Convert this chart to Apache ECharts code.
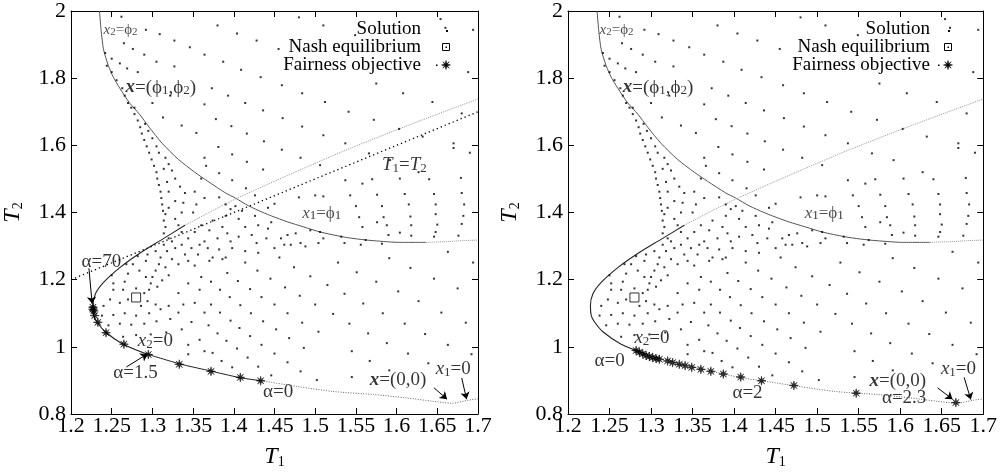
<!DOCTYPE html>
<html>
<head>
<meta charset="utf-8">
<title>Fairness objective and Nash equilibrium</title>
<script src="https://cdn.jsdelivr.net/npm/echarts@6.0.0/dist/echarts.min.js"></script>
<style>
  html, body { margin: 0; background: #fff; }
  #main { width: 1000px; height: 474px; }
</style>
</head>
<body>
<div id="main"></div>
<script>
// axis ranges
var t1Min = 1.2, t1Max = 1.7, t1Step = 0.05;
var t2Min = 0.8, t2Max = 2, t2Step = 0.2;

// solution points (T1, T2), same in both panels
var solutionUpper = [
  [1.262,1.983],[1.292,1.944],[1.309,1.931],[1.265,1.904],[1.327,1.912],[1.242,1.875],[1.276,1.887],[1.290,1.870],
  [1.346,1.892],[1.250,1.858],[1.305,1.849],[1.364,1.870],[1.260,1.844],[1.269,1.829],[1.327,1.835],[1.282,1.818],
  [1.244,1.837],[1.250,1.818],[1.256,1.794],[1.263,1.770],[1.266,1.748],[1.300,1.726],[1.322,1.748],[1.364,1.722],
  [1.278,1.712],[1.313,1.683],[1.336,1.659],[1.354,1.637],[1.364,1.563],
  [1.480,1.981],[1.510,1.957],[1.380,1.957],[1.404,1.933],[1.428,1.912],[1.455,1.887],[1.387,1.849],[1.409,1.825],
  [1.433,1.803],[1.459,1.779],[1.484,1.755],[1.512,1.729],[1.373,1.770],[1.393,1.748],[1.414,1.726],[1.436,1.704],
  [1.460,1.681],[1.484,1.656],[1.510,1.630],[1.378,1.678],[1.397,1.657],[1.416,1.635],[1.437,1.612],[1.459,1.587],
  [1.482,1.563],[1.381,1.595],[1.398,1.573],[1.416,1.551],[1.436,1.528],[1.366,1.539],[1.382,1.517],[1.398,1.496],
  [1.415,1.472],[1.506,1.541],[1.500,1.451],[1.382,1.445],[1.426,1.451],[1.450,1.426],[1.442,1.414],[1.390,1.424],
  [1.402,1.419],[1.396,1.410],[1.410,1.405],[1.480,1.445],[1.510,1.448],
  [1.654,1.976],[1.660,1.950],[1.694,1.944],[1.549,1.928],[1.688,1.818],[1.575,1.784],[1.608,1.755],[1.644,1.729],
  [1.541,1.700],[1.572,1.676],[1.680,1.695],[1.603,1.649],[1.632,1.626],[1.670,1.606],[1.537,1.606],[1.690,1.578],
  [1.566,1.576],[1.592,1.556],[1.627,1.520],[1.537,1.496],[1.570,1.499],[1.604,1.501],[1.640,1.499],[1.679,1.503],
  [1.558,1.486],[1.543,1.451],[1.576,1.453],[1.610,1.455],[1.646,1.455],[1.680,1.458],[1.550,1.419],[1.582,1.419],
  [1.615,1.424],[1.648,1.424],[1.683,1.424],[1.670,1.592]
];
var solutionFan = [
  [1.270,1.726],[1.274,1.712],[1.278,1.693],[1.282,1.674],[1.285,1.654],[1.287,1.635],[1.290,1.616],[1.293,1.597],
  [1.296,1.578],[1.299,1.558],[1.302,1.539],[1.305,1.520],[1.306,1.501],[1.308,1.482],[1.310,1.462],[1.311,1.443],
  [1.312,1.424],[1.313,1.405],
  [1.291,1.664],[1.295,1.643],[1.300,1.621],[1.305,1.597],[1.308,1.578],[1.316,1.563],[1.320,1.544],[1.314,1.530],
  [1.324,1.525],[1.328,1.501],[1.318,1.491],[1.334,1.477],[1.320,1.462],[1.340,1.458],[1.328,1.434],[1.338,1.429],
  [1.352,1.462],[1.354,1.424],[1.320,1.414],[1.336,1.400],[1.360,1.501],[1.364,1.443],[1.350,1.400]
];
var solutionCluster = [
  [1.316,1.395],[1.314,1.376],[1.316,1.357],[1.314,1.338],[1.320,1.323],[1.314,1.304],[1.318,1.285],[1.310,1.266],
  [1.308,1.246],[1.304,1.227],[1.300,1.208],[1.298,1.189],[1.296,1.170],[1.328,1.381],[1.332,1.362],[1.336,1.342],
  [1.324,1.314],[1.328,1.294],[1.336,1.304],[1.340,1.275],[1.324,1.261],[1.332,1.246],[1.316,1.237],[1.344,1.323],
  [1.352,1.342],[1.360,1.362],[1.348,1.294],[1.358,1.304],[1.356,1.275],[1.364,1.314],[1.344,1.256],[1.352,1.242],
  [1.320,1.213],[1.312,1.198],[1.306,1.179],
  [1.374,1.376],[1.390,1.390],[1.406,1.381],[1.426,1.390],[1.446,1.371],[1.370,1.347],[1.386,1.357],[1.392,1.338],
  [1.414,1.357],[1.430,1.362],[1.442,1.352],[1.380,1.323],[1.396,1.314],[1.406,1.328],[1.422,1.333],[1.428,1.309],
  [1.440,1.323],[1.450,1.294],[1.458,1.323],[1.466,1.333],[1.462,1.304],[1.476,1.338],[1.482,1.309],[1.488,1.299],
  [1.504,1.309],[1.510,1.323],[1.506,1.342],[1.368,1.294],[1.382,1.290],[1.398,1.294],[1.414,1.285],[1.430,1.280],
  [1.374,1.266],[1.390,1.266],[1.370,1.256],[1.386,1.261],[1.414,1.251],[1.456,1.266],[1.470,1.304],[1.474,1.237],
  [1.528,1.251],[1.494,1.347],
  [1.554,1.386],[1.584,1.386],[1.617,1.388],[1.648,1.395],[1.682,1.390],[1.558,1.357],[1.588,1.362],[1.618,1.362],
  [1.650,1.364],[1.680,1.366],[1.576,1.371],[1.532,1.328],[1.562,1.318],[1.590,1.333],[1.604,1.340],[1.618,1.331],
  [1.648,1.342],[1.676,1.331],[1.536,1.309],[1.556,1.304],[1.582,1.307],[1.646,1.328]
];
var solutionLower = [
  [1.290,1.160],[1.264,1.170],[1.252,1.170],[1.248,1.141],[1.260,1.131],[1.270,1.141],[1.280,1.174],[1.286,1.122],
  [1.294,1.136],[1.304,1.126],[1.240,1.122],[1.238,1.093],[1.252,1.095],[1.266,1.100],[1.280,1.093],[1.296,1.100],
  [1.310,1.112],[1.320,1.122],[1.246,1.064],[1.260,1.069],[1.274,1.066],[1.290,1.069],[1.305,1.076],[1.322,1.083],
  [1.332,1.102],[1.264,1.030],[1.280,1.035],[1.298,1.037],[1.317,1.043],[1.336,1.052],[1.348,1.074],[1.344,1.006],
  [1.358,1.021],[1.344,0.978],[1.364,0.987],[1.252,1.189],[1.266,1.194],[1.250,1.213],[1.270,1.218],[1.284,1.227],
  [1.292,1.208],[1.268,1.246],[1.276,1.246],[1.292,1.256],[1.294,1.275],[1.304,1.285],[1.282,1.270],[1.360,1.208],
  [1.358,1.170],[1.344,1.189],[1.332,1.160],[1.352,1.131],[1.338,1.126],[1.364,1.102],
  [1.429,1.227],[1.392,1.220],[1.372,1.194],[1.405,1.196],[1.445,1.203],[1.494,1.210],[1.383,1.170],[1.420,1.172],
  [1.463,1.177],[1.515,1.184],[1.395,1.148],[1.434,1.148],[1.481,1.152],[1.372,1.126],[1.408,1.124],[1.450,1.126],
  [1.500,1.126],[1.383,1.102],[1.421,1.100],[1.466,1.100],[1.522,1.098],[1.396,1.078],[1.436,1.076],[1.484,1.072],
  [1.369,1.064],[1.407,1.056],[1.452,1.052],[1.504,1.045],[1.380,1.040],[1.420,1.032],[1.468,1.026],[1.391,1.018],
  [1.434,1.006],[1.486,0.997],[1.374,0.982],[1.404,0.995],[1.450,0.980],[1.385,0.958],[1.417,0.968],[1.466,0.954],
  [1.398,0.939],[1.430,0.941],[1.482,0.927],[1.446,0.915],[1.502,0.901],
  [1.663,1.283],[1.591,1.264],[1.694,1.251],[1.551,1.222],[1.617,1.235],[1.575,1.194],[1.646,1.203],[1.675,1.174],
  [1.536,1.158],[1.602,1.165],[1.559,1.129],[1.627,1.136],[1.583,1.100],[1.655,1.102],[1.542,1.069],[1.610,1.069],
  [1.685,1.072],[1.565,1.040],[1.635,1.038],[1.588,1.011],[1.663,1.006],[1.545,0.987],[1.614,0.980],[1.692,0.978],
  [1.567,0.958],[1.639,0.951],[1.591,0.930],[1.545,0.910]
];

var nashPoint = [[1.280, 1.147]];

var fairnessLeft = [
  [1.227,1.118],[1.227,1.112],[1.228,1.107],[1.229,1.093],[1.233,1.073],[1.243,1.042],[1.265,1.008],[1.295,0.977],
  [1.333,0.948],[1.372,0.927],[1.408,0.909],[1.433,0.899]
];
var fairnessRight = [
  [1.282,0.989],[1.286,0.984],[1.290,0.979],[1.294,0.974],[1.298,0.971],[1.302,0.968],[1.306,0.965],[1.310,0.963],
  [1.320,0.958],[1.326,0.953],[1.334,0.948],[1.341,0.944],[1.349,0.939],[1.360,0.933],[1.372,0.927],[1.387,0.919],
  [1.408,0.910],[1.433,0.899],[1.472,0.885],[1.547,0.862],[1.667,0.834]
];

// x2 = phi2 / x1 = phi1 curve
var upperCurve = [
  [1.235,2.0],[1.237,1.942],[1.240,1.885],[1.246,1.837],[1.252,1.803],[1.260,1.770],[1.272,1.726],[1.284,1.693],
  [1.296,1.654],[1.312,1.606],[1.332,1.558],[1.352,1.520],[1.368,1.493],[1.390,1.458],[1.402,1.443],[1.418,1.420],
  [1.436,1.400],[1.446,1.390],[1.466,1.372],[1.486,1.357],[1.506,1.342],[1.533,1.328],[1.552,1.321],[1.572,1.316],
  [1.604,1.311],[1.636,1.311]
];
var upperTail = [[1.636,1.311],[1.660,1.313],[1.680,1.316],[1.700,1.318]];

// x2 = 0 boundary, pieces
var lowerTop = [[1.340,1.362],[1.368,1.398],[1.402,1.440],[1.450,1.493],[1.534,1.582],[1.620,1.665],[1.700,1.738]];
var lowerNose = [
  [1.340,1.362],[1.312,1.320],[1.284,1.278],[1.260,1.236],[1.240,1.192],[1.230,1.158],[1.227,1.122],
  [1.228,1.093],[1.232,1.074],[1.242,1.045],[1.264,1.008],[1.294,0.978]
];
var lowerMid = [[1.294,0.978],[1.334,0.949],[1.368,0.930],[1.408,0.908],[1.434,0.899]];
var lowerTail = [
  [1.434,0.899],[1.478,0.882],[1.522,0.867],[1.572,0.858],[1.612,0.848],[1.644,0.838],[1.668,0.832],[1.688,0.841],
  [1.700,0.845]
];

var diagonal = [[1.2,1.2],[1.7,1.7]];

var labelsLeft = [
  [1.240,1.942,'x2phi2'],[1.267,1.772,'xphi'],[1.582,1.541,'t1t2'],[1.484,1.397,'x1phi1'],[1.213,1.253,'a70'],
  [1.282,1.016,'x20'],[1.252,0.921,'a15'],[1.436,0.866,'a0'],[1.567,0.901,'x00'],[1.648,0.933,'x10']
];
var labelsRight = [
  [1.238,1.942,'x2phi2'],[1.266,1.772,'xphi'],[1.485,1.397,'x1phi1'],[1.280,1.026,'x20'],[1.232,0.959,'a0'],
  [1.398,0.863,'a2'],[1.563,0.898,'x00'],[1.649,0.933,'x10'],[1.578,0.849,'a23']
];
var arrowsLeft = [
  [[1.222,1.234],[1.226,1.128]],
  [[1.268,0.940],[1.294,0.979]],
  [[1.646,0.878],[1.662,0.844]],
  [[1.680,0.907],[1.686,0.844]]
];
var arrowsRight = [
  [[1.645,0.878],[1.663,0.844]],
  [[1.677,0.909],[1.685,0.843]]
];

var labelText = {
  x2phi2: '{si|x}{ss|2}{sn|=ϕ}{ss|2}',
  xphi: '{b|x}{n|=(ϕ}{s|1}{n|,ϕ}{s|2}{n|)}',
  t1t2: '{i|T}{s|1}{n|=}{i|T}{s|2}',
  x1phi1: '{mi|x}{s|1}{mn|=ϕ}{s|1}',
  a70: '{n|α=70}',
  x20: '{i|x}{s|2}{n|=0}',
  a15: '{n|α=1.5}',
  a0: '{n|α=0}',
  a2: '{n|α=2}',
  a23: '{n|α=2.3}',
  x00: '{b|x}{n|=(0,0)}',
  x10: '{i|x}{s|1}{n|=0}'
};

var FONT = '"Liberation Serif", "DejaVu Serif", serif';
// eight-point star marker, 10x10 box
var starPts = [[10,5],[6.3,4.2],[8.54,1.46],[5.8,3.7],[5,0],[4.2,3.7],[1.46,1.46],[3.7,4.2],
  [0,5],[3.7,5.8],[1.46,8.54],[4.2,6.3],[5,10],[5.8,6.3],[8.54,8.54],[6.3,5.8]];
var STAR = 'M' + starPts.map(function (p) { return p[0] + ' ' + p[1]; }).join('L') + 'Z';

var rich = {
  n: { fontFamily: FONT, fontSize: 19, lineHeight: 19, color: '#000' },
  i: { fontFamily: FONT, fontSize: 19, lineHeight: 19, fontStyle: 'italic', color: '#000' },
  b: { fontFamily: FONT, fontSize: 19, lineHeight: 19, fontStyle: 'italic', fontWeight: 'bold', color: '#000' },
  s: { fontFamily: FONT, fontSize: 13, lineHeight: 14, verticalAlign: 'bottom', color: '#000' },
  mn: { fontFamily: FONT, fontSize: 17, lineHeight: 17, color: '#222' },
  mi: { fontFamily: FONT, fontSize: 17, lineHeight: 17, fontStyle: 'italic', color: '#222' },
  sn: { fontFamily: FONT, fontSize: 15, lineHeight: 15, color: '#222' },
  si: { fontFamily: FONT, fontSize: 15, lineHeight: 15, fontStyle: 'italic', color: '#222' },
  ss: { fontFamily: FONT, fontSize: 11, lineHeight: 11, verticalAlign: 'bottom', color: '#222' }
};

var grids = [
  { left: 62, top: 11, width: 416, height: 416 },
  { left: 568, top: 11, width: 416, height: 416 }
];

function fmt(v) { return String(+v.toFixed(2)); }

var xAxes = [], yAxes = [];
grids.forEach(function (g, gi) {
  var tick = { inside: true, length: 6, lineStyle: { color: '#000', width: 1 } };
  var line = { show: true, lineStyle: { color: '#000', width: 1 } };
  var nameRich = {
    t: { fontFamily: FONT, fontSize: 24, fontStyle: 'italic', color: '#000', lineHeight: 24 },
    s: { fontFamily: FONT, fontSize: 14, color: '#000', lineHeight: 16, verticalAlign: 'bottom' }
  };
  xAxes.push({
    type: 'value', gridIndex: gi, min: t1Min, max: t1Max, interval: t1Step, position: 'bottom',
    axisLine: line, axisTick: tick, splitLine: { show: false },
    axisLabel: { formatter: fmt, fontFamily: FONT, fontSize: 22, color: '#000', margin: 1 },
    name: '{t|T}{s|1}', nameLocation: 'middle', nameGap: 31, nameTextStyle: { rich: nameRich }
  });
  xAxes.push({
    type: 'value', gridIndex: gi, min: t1Min, max: t1Max, interval: t1Step, position: 'top',
    axisLine: line, axisTick: tick, splitLine: { show: false }, axisLabel: { show: false }
  });
  yAxes.push({
    type: 'value', gridIndex: gi, min: t2Min, max: t2Max, interval: t2Step, position: 'left',
    axisLine: line, axisTick: tick, splitLine: { show: false },
    axisLabel: { formatter: fmt, fontFamily: FONT, fontSize: 22, color: '#000', margin: 5 },
    name: '{t|T}{s|2}', nameLocation: 'middle', nameGap: 46, nameTextStyle: { rich: nameRich }
  });
  yAxes.push({
    type: 'value', gridIndex: gi, min: t2Min, max: t2Max, interval: t2Step, position: 'right',
    axisLine: line, axisTick: tick, splitLine: { show: false }, axisLabel: { show: false }
  });
});

var solutionAll = solutionUpper.concat(solutionFan, solutionCluster, solutionLower);

function curve(gi, data, style, smooth) {
  return {
    type: 'line', xAxisIndex: gi * 2, yAxisIndex: gi * 2, data: data,
    symbol: 'none', smooth: smooth === undefined ? 0.25 : smooth, silent: true, z: 1, lineStyle: style
  };
}

var series = [];
[0, 1].forEach(function (gi) {
  var left = gi === 0;
  var axes = { xAxisIndex: gi * 2, yAxisIndex: gi * 2 };
  series.push(curve(gi, upperCurve, { color: '#555', width: 1 }));
  series.push(curve(gi, upperTail, { color: '#999', width: 1, type: [1, 1] }));
  series.push(curve(gi, lowerTop, { color: '#999', width: 1, type: [1, 1] }));
  series.push(curve(gi, lowerNose, { color: '#222', width: 1.1 }));
  series.push(curve(gi, lowerMid, left ? { color: '#222', width: 1 } : { color: '#666', width: 1, type: [1, 1.5] }));
  series.push(curve(gi, lowerTail, { color: '#666', width: 1, type: [1, 1.5] }));
  if (left) {
    series.push(curve(gi, diagonal, { color: '#000', width: 1.3, type: [1.3, 3] }, false));
  }
  series.push(Object.assign({
    name: 'Solution', type: 'scatter', data: solutionAll, symbol: 'rect', symbolSize: 2,
    itemStyle: { color: '#000' }, silent: true, z: 3
  }, axes));
  series.push(Object.assign({
    name: 'Nash equilibrium', type: 'scatter', data: nashPoint, symbol: 'rect', symbolSize: 9,
    itemStyle: { color: 'rgba(255,255,255,0)', borderColor: '#000', borderWidth: 1 }, silent: true, z: 4
  }, axes));
  series.push(Object.assign({
    name: 'Fairness objective', type: 'scatter', data: left ? fairnessLeft : fairnessRight,
    symbol: 'path://' + STAR, symbolSize: 9, itemStyle: { color: '#000', borderColor: '#000', borderWidth: 0.6 },
    silent: true, z: 5
  }, axes));
  series.push(Object.assign({
    type: 'lines', coordinateSystem: 'cartesian2d', silent: true, z: 6,
    data: (left ? arrowsLeft : arrowsRight).map(function (a) { return { coords: a }; }),
    symbol: ['none', 'arrow'], symbolSize: 7, lineStyle: { color: '#000', width: 1, opacity: 1 }
  }, axes));
  series.push(Object.assign({
    type: 'scatter', silent: true, z: 7, symbolSize: 0,
    data: (left ? labelsLeft : labelsRight).map(function (l) { return [l[0], l[1], labelText[l[2]]]; }),
    label: { show: true, position: 'right', distance: 0, formatter: function (p) { return p.data[2]; }, rich: rich }
  }, axes));
});

// legend drawn as graphic, right aligned text with marker to its right
function legend(textRight, iconX) {
  var f = '19px ' + FONT;
  var rows = [29, 47, 65];
  var names = ['Solution', 'Nash equilibrium', 'Fairness objective'];
  var els = names.map(function (n, k) {
    return { type: 'text', x: textRight, y: rows[k],
      style: { text: n, font: f, fill: '#000', textAlign: 'right', textVerticalAlign: 'middle' } };
  });
  els.push({ type: 'rect', shape: { x: iconX, y: rows[0] + 1, width: 2, height: 2 }, style: { fill: '#000' } });
  els.push({ type: 'rect', shape: { x: iconX - 3.5, y: rows[1] - 3.5, width: 7, height: 7 },
    style: { fill: '#fff', stroke: '#000', lineWidth: 1 } });
  els.push({ type: 'rect', shape: { x: iconX - 0.5, y: rows[1] - 0.5, width: 1.5, height: 1.5 }, style: { fill: '#000' } });
  els.push({ type: 'rect', shape: { x: iconX - 10, y: rows[2] - 0.5, width: 1.5, height: 1.5 }, style: { fill: '#000' } });
  els.push({ type: 'polygon', x: iconX - 4.5, y: rows[2] - 4.5, scaleX: 0.9, scaleY: 0.9,
    shape: { points: starPts }, style: { fill: '#000', stroke: '#000', lineWidth: 0.6 } });
  return els;
}

var chart = echarts.init(document.getElementById('main'), null, { renderer: 'canvas' });
chart.setOption({
  backgroundColor: '#fff',
  animation: false,
  grid: grids,
  xAxis: xAxes,
  yAxis: yAxes,
  series: series,
  graphic: legend(421, 446).concat(legend(930, 948))
});
window.onresize = chart.resize;
</script>
</body>
</html>
